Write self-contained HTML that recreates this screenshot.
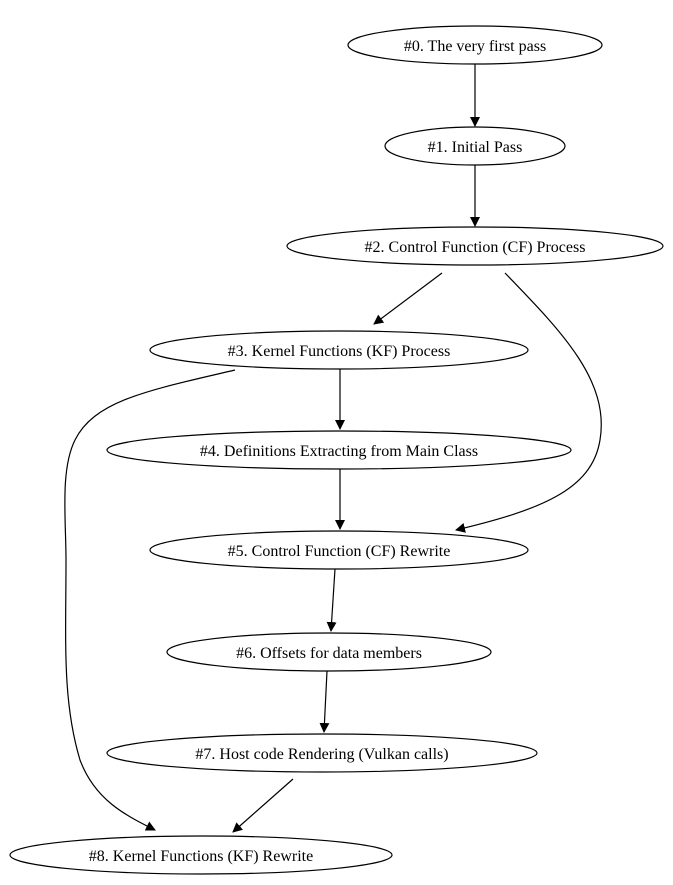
<!DOCTYPE html>
<html><head><meta charset="utf-8"><style>
html,body{margin:0;padding:0;background:#fff;}
svg{display:block;}
text{font-family:"Liberation Serif",serif;font-size:16px;fill:#000;}
</style></head><body>
<svg width="673" height="885" viewBox="0 0 673 885" xmlns="http://www.w3.org/2000/svg">
<defs><marker id="a" markerWidth="10" markerHeight="10" refX="9" refY="5" orient="auto" markerUnits="userSpaceOnUse"><path d="M0,0 L10,5 L0,10 Z" fill="#000"/></marker></defs>
<g fill="#fff" stroke="#000" stroke-width="1.2">
<ellipse cx="475" cy="45" rx="127" ry="19"/>
<ellipse cx="475" cy="146" rx="90" ry="19"/>
<ellipse cx="475" cy="246" rx="188" ry="19"/>
<ellipse cx="339" cy="350" rx="189" ry="19"/>
<ellipse cx="339" cy="450" rx="232" ry="19"/>
<ellipse cx="339" cy="550" rx="189" ry="19"/>
<ellipse cx="329" cy="652" rx="162" ry="19"/>
<ellipse cx="322" cy="753" rx="215" ry="19"/>
<ellipse cx="201" cy="855" rx="191" ry="19"/>
</g>
<g fill="none" stroke="#000" stroke-width="1.2" marker-end="url(#a)">
<path d="M475,64 L475,126"/>
<path d="M475,165 L475,226"/>
<path d="M442,273 L374,324"/>
<path d="M505,273 C560,330 610,380 600,440 C592,490 540,510 456,530"/>
<path d="M340,369 L340,429"/>
<path d="M235,370 C150,390 95,400 75,440 C60,470 66,520 66,560 C66,640 62,700 80,760 C95,800 125,815 155,830"/>
<path d="M340,469 L340,529"/>
<path d="M335,569 L331,631"/>
<path d="M327,671 L324,732"/>
<path d="M293,779 L233,832"/>
</g>
<g text-anchor="middle">
<text x="475" y="51">#0. The very first pass</text>
<text x="475" y="152">#1. Initial Pass</text>
<text x="475" y="252">#2. Control Function (CF) Process</text>
<text x="339" y="356">#3. Kernel Functions (KF) Process</text>
<text x="339" y="456">#4. Definitions Extracting from Main Class</text>
<text x="339" y="556">#5. Control Function (CF) Rewrite</text>
<text x="329" y="658">#6. Offsets for data members</text>
<text x="322" y="759">#7. Host code Rendering (Vulkan calls)</text>
<text x="201" y="861">#8. Kernel Functions (KF) Rewrite</text>
</g>
</svg>
</body></html>
